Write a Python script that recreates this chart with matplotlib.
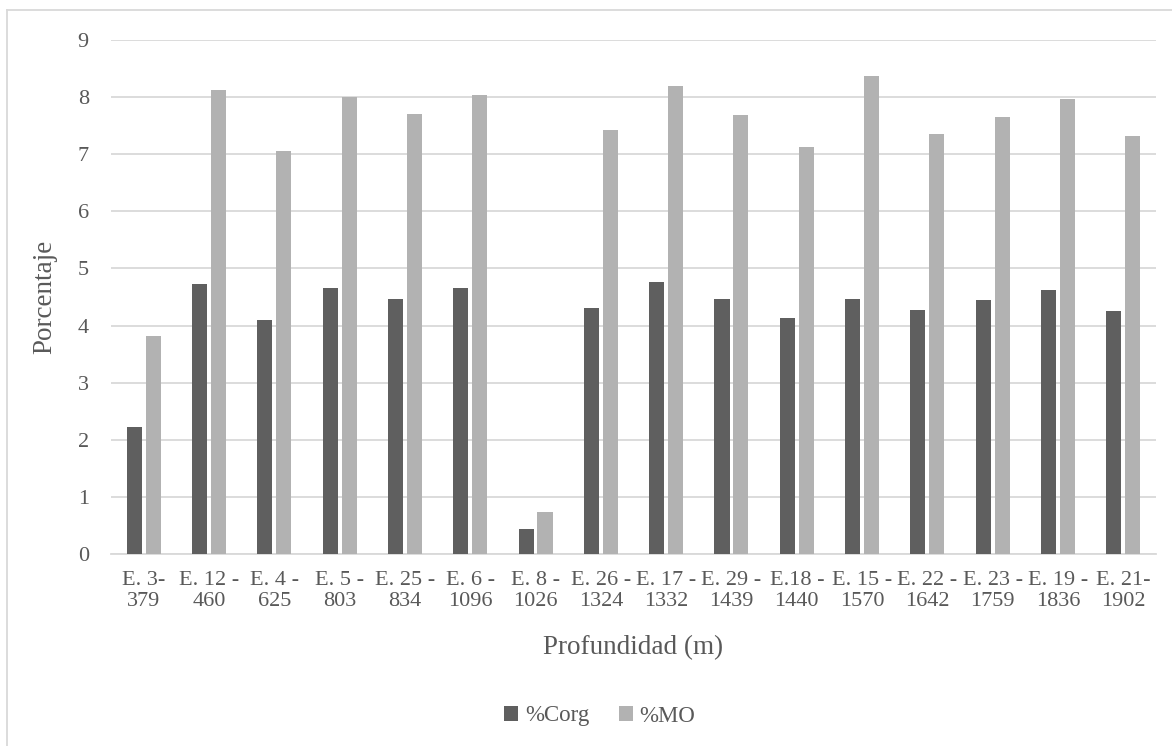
import numpy as np
from matplotlib import pyplot as plt
from matplotlib.lines import Line2D

estaciones = ['E. 3-\n379', 'E. 12 -\n460', 'E. 4 -\n625', 'E. 5 -\n803',
              'E. 25 -\n834', 'E. 6 -\n1096', 'E. 8 -\n1026', 'E. 26 -\n1324',
              'E. 17 -\n1332', 'E. 29 -\n1439', 'E.18 -\n1440', 'E. 15 -\n1570',
              'E. 22 -\n1642', 'E. 23 -\n1759', 'E. 19 -\n1836', 'E. 21-\n1902']
corg = [2.22, 4.72, 4.10, 4.65, 4.47, 4.66, 0.43, 4.31,
        4.76, 4.46, 4.14, 4.47, 4.27, 4.45, 4.63, 4.25]
mo = [3.82, 8.13, 7.06, 8.01, 7.71, 8.03, 0.74, 7.42,
      8.19, 7.69, 7.12, 8.37, 7.35, 7.66, 7.97, 7.32]

plt.rcParams['font.family'] = ['Liberation Serif', 'DejaVu Serif']
gris_txt = '#595959'

fig = plt.figure(figsize=(11.72, 7.46), dpi=100)
ax = fig.add_axes([111/1172, 1 - 554/746, (1156 - 111)/1172, (554 - 40)/746])

x = np.arange(len(estaciones))
w = 0.23
ax.bar(x - 0.145, corg, w, color='#5f5f5f', label='%Corg', zorder=3)
ax.bar(x + 0.145, mo, w, color='#b2b2b2', label='%MO', zorder=3)

ax.set_xlim(-0.5, len(estaciones) - 0.5)
ax.set_ylim(0, 9)
ax.set_yticks(range(10))
ax.set_xticks(x)
ax.set_xticklabels(estaciones, fontsize=16, color=gris_txt, linespacing=1.2)
ax.tick_params(axis='y', labelsize=16, labelcolor=gris_txt, length=0, pad=16)
ax.tick_params(axis='x', length=0, pad=12)
ax.grid(axis='y', color='#d9d9d9', linewidth=1.3, zorder=0)
for s in ['top', 'right', 'left']:
    ax.spines[s].set_visible(False)
ax.spines['bottom'].set_color('#d9d9d9')
ax.spines['bottom'].set_linewidth(1.3)

ax.set_ylabel('Porcentaje', fontsize=19.5, color=gris_txt)
ax.yaxis.set_label_coords((57 - 111) / 1045, 0.5)
ax.set_xlabel('Profundidad (m)', fontsize=19.5, color=gris_txt)
ax.xaxis.set_label_coords(0.5, -(648 - 554) / 514)
ax.xaxis.label.set_va('center')

fig.legend(loc='center', bbox_to_anchor=(600/1172, 1 - 716/746), ncol=2,
           frameon=False, fontsize=16.5, labelcolor=gris_txt,
           handlelength=0.6, handleheight=0.6, handletextpad=0.3, columnspacing=1.3)

# marco del gráfico
fig.add_artist(Line2D([7/1172, 1], [1 - 10/746] * 2, color='#d9d9d9', lw=1.3))
fig.add_artist(Line2D([7/1172] * 2, [0, 1 - 10/746], color='#d9d9d9', lw=1.3))

fig.savefig('out.png', dpi=100)
